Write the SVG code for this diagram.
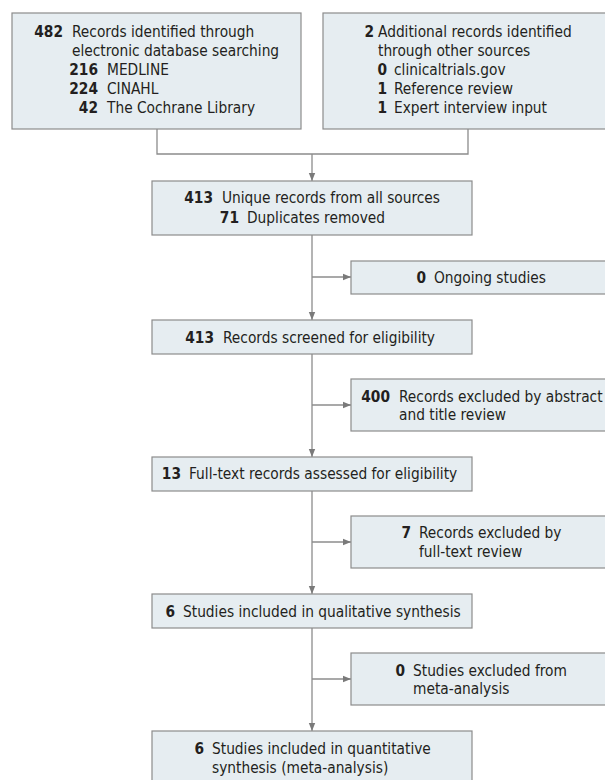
<svg xmlns="http://www.w3.org/2000/svg" width="605" height="780" viewBox="0 0 605 780">
<defs>
<style>
.box{fill:#e6edf1;stroke:#8c8c8c;stroke-width:1.2}
.t{font-family:"DejaVu Sans Condensed","DejaVu Sans",sans-serif;font-stretch:condensed;font-size:15.3px;fill:#231f20}
.b{font-weight:bold}
.e{text-anchor:end}
.c{fill:none;stroke:#8c8c8c;stroke-width:1.3}
</style>
<marker id="ah" markerWidth="8" markerHeight="8" viewBox="0 0 8 8" refX="8" refY="4" orient="auto" markerUnits="userSpaceOnUse">
<path d="M0,0.8 L8,4 L0,7.2 Z" fill="#7a7a7a"/>
</marker>
</defs>
<g id="connectors">
<path class="c" d="M157,129 V154 H468 V129"/>
<path class="c" d="M312,154 V181" marker-end="url(#ah)"/>
<path class="c" d="M312,235 V320" marker-end="url(#ah)"/>
<path class="c" d="M312,277 H351" marker-end="url(#ah)"/>
<path class="c" d="M312,354 V457" marker-end="url(#ah)"/>
<path class="c" d="M312,405 H351" marker-end="url(#ah)"/>
<path class="c" d="M312,491 V594" marker-end="url(#ah)"/>
<path class="c" d="M312,542 H351" marker-end="url(#ah)"/>
<path class="c" d="M312,628 V731" marker-end="url(#ah)"/>
<path class="c" d="M312,679 H351" marker-end="url(#ah)"/>
</g>
<g id="n1">
<rect class="box" x="12" y="13" width="289" height="116"/>
<text class="t"><tspan class="b e" x="63" y="37">482</tspan><tspan x="72" y="37">Records identified through</tspan><tspan x="72" y="56">electronic database searching</tspan><tspan class="b e" x="98" y="75">216</tspan><tspan x="107" y="75">MEDLINE</tspan><tspan class="b e" x="98" y="94">224</tspan><tspan x="107" y="94">CINAHL</tspan><tspan class="b e" x="98" y="113">42</tspan><tspan x="107" y="113">The Cochrane Library</tspan></text>
</g>
<g id="n2">
<rect class="box" x="323" y="13" width="290" height="116"/>
<text class="t"><tspan class="b e" x="374" y="37">2</tspan><tspan x="378" y="37">Additional records identified</tspan><tspan x="378" y="56">through other sources</tspan><tspan class="b e" x="387" y="75">0</tspan><tspan x="394" y="75">clinicaltrials.gov</tspan><tspan class="b e" x="387" y="94">1</tspan><tspan x="394" y="94">Reference review</tspan><tspan class="b e" x="387" y="113">1</tspan><tspan x="394" y="113">Expert interview input</tspan></text>
</g>
<g id="n3">
<rect class="box" x="152" y="181" width="320" height="54"/>
<text class="t"><tspan class="b e" x="213" y="203">413</tspan><tspan x="222" y="203">Unique records from all sources</tspan><tspan class="b e" x="239" y="223">71</tspan><tspan x="247" y="223">Duplicates removed</tspan></text>
</g>
<g id="n4">
<rect class="box" x="351" y="261" width="262" height="33"/>
<text class="t"><tspan class="b e" x="426" y="283">0</tspan><tspan x="434" y="283">Ongoing studies</tspan></text>
</g>
<g id="n5">
<rect class="box" x="152" y="320" width="320" height="34"/>
<text class="t"><tspan class="b e" x="214" y="343">413</tspan><tspan x="223" y="343">Records screened for eligibility</tspan></text>
</g>
<g id="n6">
<rect class="box" x="351" y="379" width="262" height="52"/>
<text class="t"><tspan class="b e" x="390" y="402">400</tspan><tspan x="399" y="402">Records excluded by abstract</tspan><tspan x="399" y="420">and title review</tspan></text>
</g>
<g id="n7">
<rect class="box" x="152" y="457" width="320" height="34"/>
<text class="t"><tspan class="b e" x="181" y="479">13</tspan><tspan x="189" y="479">Full-text records assessed for eligibility</tspan></text>
</g>
<g id="n8">
<rect class="box" x="351" y="516" width="262" height="52"/>
<text class="t"><tspan class="b e" x="411" y="538">7</tspan><tspan x="419" y="538">Records excluded by</tspan><tspan x="419" y="557">full-text review</tspan></text>
</g>
<g id="n9">
<rect class="box" x="152" y="594" width="320" height="34"/>
<text class="t"><tspan class="b e" x="175" y="617">6</tspan><tspan x="183" y="617">Studies included in qualitative synthesis</tspan></text>
</g>
<g id="n10">
<rect class="box" x="351" y="653" width="262" height="52"/>
<text class="t"><tspan class="b e" x="405" y="676">0</tspan><tspan x="413" y="676">Studies excluded from</tspan><tspan x="413" y="694">meta-analysis</tspan></text>
</g>
<g id="n11">
<rect class="box" x="152" y="731" width="320" height="60"/>
<text class="t"><tspan class="b e" x="204" y="754">6</tspan><tspan x="212" y="754">Studies included in quantitative</tspan><tspan x="212" y="773">synthesis (meta-analysis)</tspan></text>
</g>
</svg>
